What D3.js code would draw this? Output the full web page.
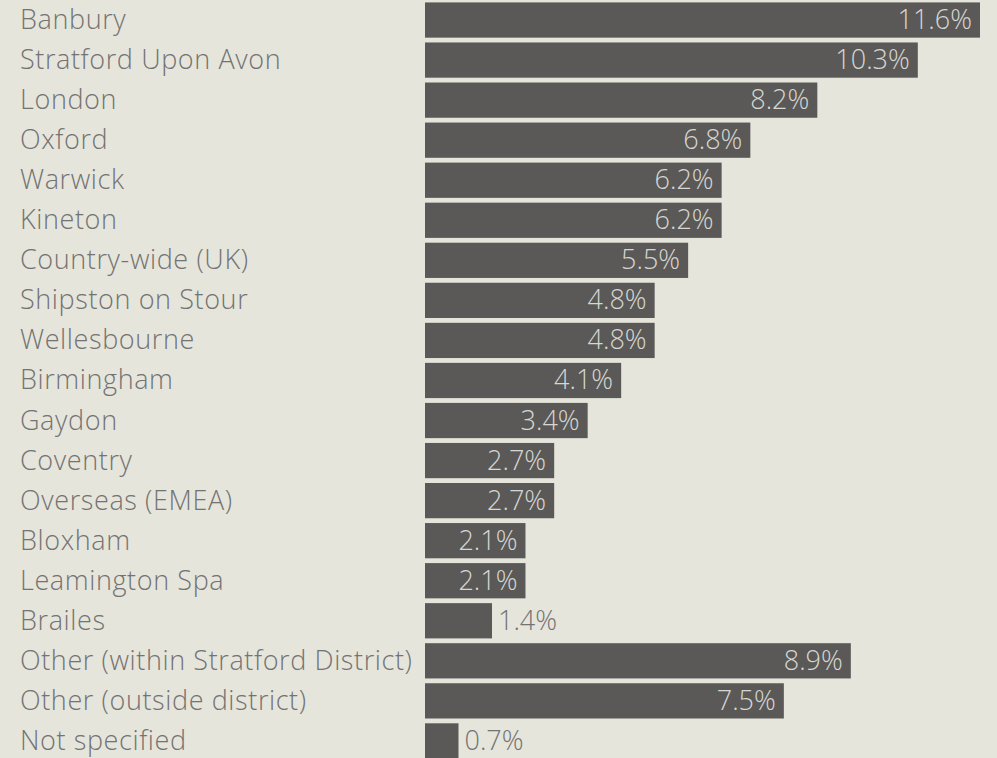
<!DOCTYPE html>
<html>
<head>
<meta charset="utf-8">
<script src="https://cdn.jsdelivr.net/npm/d3@7"></script>
<style>
  html, body { margin: 0; padding: 0; background: #e6e5dc; }
</style>
</head>
<body>
<svg id="chart" width="997" height="758"></svg>
<script>
// places people came from, top to bottom
var places = ["Banbury", "Stratford Upon Avon", "London", "Oxford", "Warwick", "Kineton",
    "Country-wide (UK)", "Shipston on Stour", "Wellesbourne", "Birmingham", "Gaydon",
    "Coventry", "Overseas (EMEA)", "Bloxham", "Leamington Spa", "Brailes",
    "Other (within Stratford District)", "Other (outside district)", "Not specified"];

var percents = [11.6, 10.3, 8.2, 6.8, 6.2, 6.2, 5.5, 4.8, 4.8, 4.1, 3.4, 2.7, 2.7,
    2.1, 2.1, 1.4, 8.9, 7.5, 0.7];

var rows = places.map(function (d, i) {
    return { place: d, pct: percents[i] };
});

var svg = d3.select("#chart")
    .style("font-family", "'Open Sans', sans-serif")
    .style("font-weight", 300)
    .style("font-size", "27px");

var x = d3.scaleLinear()
    .domain([0, 11.6])
    .range([425, 980]);

var y = d3.scaleBand()
    .domain(places)
    .range([0, 40.05 * places.length])
    .paddingInner(0.12)
    .paddingOuter(0.06);

// category names on the left
svg.selectAll(".name")
    .data(rows)
    .enter()
    .append("text")
    .attr("class", "name")
    .attr("x", 20)
    .attr("y", function (d) { return y(d.place) + y.bandwidth() / 2 + 9; })
    .attr("fill", "#737373")
    .style("letter-spacing", "0.6px")
    .text(function (d) { return d.place; });

// bars
svg.selectAll(".bar")
    .data(rows)
    .enter()
    .append("rect")
    .attr("class", "bar")
    .attr("x", x(0))
    .attr("y", function (d) { return y(d.place); })
    .attr("width", function (d) { return x(d.pct) - x(0); })
    .attr("height", y.bandwidth())
    .attr("fill", "#5a5957");

// value labels, inside the bar unless it is too short
function inside(d) { return x(d.pct) - x(0) > 90; }

svg.selectAll(".val")
    .data(rows)
    .enter()
    .append("text")
    .attr("class", "val")
    .attr("x", function (d) { return inside(d) ? x(d.pct) - 8 : x(d.pct) + 6; })
    .attr("y", function (d) { return y(d.place) + y.bandwidth() / 2 + 9; })
    .attr("text-anchor", function (d) { return inside(d) ? "end" : "start"; })
    .attr("fill", function (d) { return inside(d) ? "#d6d6d2" : "#737373"; })
    .text(function (d) { return d.pct.toFixed(1) + "%"; });
</script>
</body>
</html>
